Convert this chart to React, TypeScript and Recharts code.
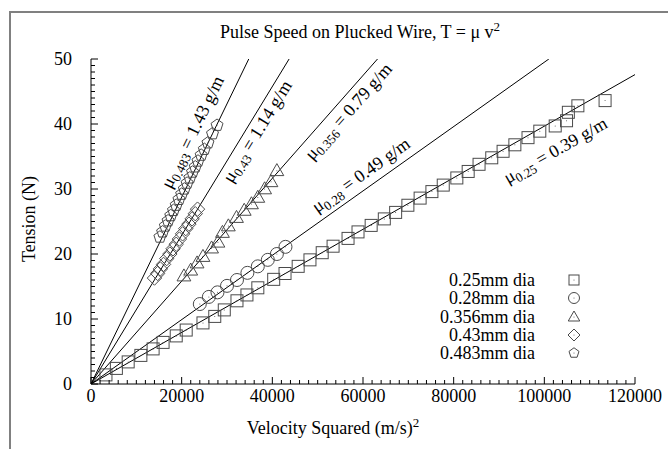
import React from "react";
import { ScatterChart, Scatter, XAxis, YAxis, ReferenceDot, Legend } from "recharts";

// wire diameters and measured points [v^2 (m/s)^2, T (N)]
const wires = ["0.25mm dia", "0.28mm dia", "0.356mm dia", "0.43mm dia", "0.483mm dia"];

const pts025 = [
  [3300, 1.4], [5600, 2.4], [8200, 3.4], [11000, 4.4], [13700, 5.4], [15900, 6.4], [18800, 7.4],
  [21000, 8.3], [24700, 9.4], [27300, 10.4], [29400, 11.4], [32200, 12.8], [34400, 13.7],
  [36800, 14.8], [40300, 16.1], [42800, 17.0], [45700, 18.1], [48300, 19.1], [51000, 20.2],
  [53400, 21.2], [56700, 22.4], [58900, 23.4], [61800, 24.4], [64700, 25.4], [67200, 26.4],
  [69900, 27.5], [72600, 28.6], [75200, 29.6], [77700, 30.6], [80700, 31.7], [83200, 32.7],
  [85600, 33.8], [88400, 34.8], [90900, 35.8], [93500, 36.8], [96400, 37.9], [99000, 38.9],
  [102400, 39.7], [104900, 40.5], [105300, 41.8], [107400, 42.8], [113400, 43.6],
];
const pts028 = [
  [24000, 12.3], [26000, 13.4], [27900, 14.1], [30000, 15.1], [32200, 16.0],
  [34500, 17.1], [36800, 18.1], [39000, 19.1], [41000, 20.0], [42900, 21.1],
];
const pts0356 = [
  [20500, 16.6], [22000, 17.5], [23400, 18.6], [24700, 19.6], [26600, 20.9], [28000, 21.8],
  [29000, 23.3], [30300, 24.3], [32100, 25.6], [33800, 26.7], [35400, 27.7], [36800, 28.7],
  [38300, 30.0], [39700, 31.1], [41000, 32.8],
];
const pts043 = [
  [14000, 16.3], [14700, 17.0], [15300, 17.7], [16000, 18.4], [16700, 19.3], [17400, 20.0],
  [18100, 20.8], [18800, 21.5], [19500, 22.3], [20200, 23.1], [20900, 23.9], [21600, 24.6],
  [22300, 25.4], [23000, 26.2], [23500, 26.9],
];
const pts0483 = [
  [15200, 22.6], [15800, 23.4], [16400, 24.3], [17000, 25.1], [17600, 25.9], [18200, 26.7],
  [18800, 27.5], [19400, 28.4], [20000, 29.2], [20600, 30.0], [21200, 30.9], [21800, 31.7],
  [22400, 32.6], [23000, 33.4], [23600, 34.3], [24300, 35.2], [25000, 36.1], [25800, 37.1],
  [26800, 38.5], [27800, 39.8],
];

// fitted lines through the origin (end points read at the plot edge)
const fit025 = [[0, 0], [120000, 47.6]];
const fit028 = [[0, 0], [101000, 50]];
const fit0356 = [[0, 0], [63200, 50]];
const fit043 = [[0, 0], [43700, 50]];
const fit0483 = [[0, 0], [34800, 50]];

// slope annotations: [x, y, angle, subscript, value]
const notes: [number, number, number, string, string][] = [
  [22300, 38.8, -64, "0.483", "1.43"],
  [36600, 38.9, -58.5, "0.43", "1.14"],
  [56700, 42, -48.6, "0.356", "0.79"],
  [59500, 32.2, -35.4, "0.28", "0.49"],
  [102400, 36, -29.6, "0.25", "0.39"],
];

const xMinor = Array.from({ length: 61 }, (_, i) => i * 2000);
const yMinor = Array.from({ length: 51 }, (_, i) => i);

const toXY = (a: number[][]) => a.map(([x, y]) => ({ x, y }));

const FONT = "'Liberation Serif', 'DejaVu Serif', serif";
const FS = 18;
const MK = "#4a4a4a";

const shapes = [
  (cx: number, cy: number, s: number) => (
    <g>
      <rect x={cx - s} y={cy - s} width={2 * s} height={2 * s} fill="none" stroke={MK} />
      <circle cx={cx} cy={cy} r={0.5} fill={MK} />
    </g>
  ),
  (cx: number, cy: number, s: number) => (
    <g>
      <circle cx={cx} cy={cy} r={s + 0.5} fill="none" stroke={MK} />
      <circle cx={cx} cy={cy} r={0.5} fill={MK} />
    </g>
  ),
  (cx: number, cy: number, s: number) => (
    <g>
      <polygon points={`${cx},${cy - s * 1.2} ${cx - s * 1.15},${cy + s * 0.8} ${cx + s * 1.15},${cy + s * 0.8}`} fill="none" stroke={MK} />
      <circle cx={cx} cy={cy} r={0.5} fill={MK} />
    </g>
  ),
  (cx: number, cy: number, s: number) => (
    <g>
      <polygon points={`${cx},${cy - s * 1.2} ${cx + s * 1.2},${cy} ${cx},${cy + s * 1.2} ${cx - s * 1.2},${cy}`} fill="none" stroke={MK} />
      <circle cx={cx} cy={cy} r={0.5} fill={MK} />
    </g>
  ),
  (cx: number, cy: number, s: number) => {
    const p = [0, 1, 2, 3, 4]
      .map((k) => {
        const a = -Math.PI / 2 + (k * 2 * Math.PI) / 5;
        return `${cx + s * 1.05 * Math.cos(a)},${cy + s * 1.05 * Math.sin(a)}`;
      })
      .join(" ");
    return (
      <g>
        <polygon points={p} fill="none" stroke={MK} />
        <circle cx={cx} cy={cy} r={0.5} fill={MK} />
      </g>
    );
  },
];

const series = [pts025, pts028, pts0356, pts043, pts0483];
const fits = [fit025, fit028, fit0356, fit043, fit0483];

// gnuplot style ticks: inward, long on majors, short on minors
const isMajX = (v: number) => v % 20000 === 0;
const isMajY = (v: number) => v % 10 === 0;

const BottomTick = ({ x, y, payload }: any) => {
  const maj = isMajX(payload.value);
  return (
    <g>
      <line x1={x} x2={x} y1={y} y2={y - (maj ? 7 : 4)} stroke="#000" />
      {maj && (
        <text x={x} y={y + 18} textAnchor="middle" fontFamily={FONT} fontSize={FS} fill="#000">
          {payload.value}
        </text>
      )}
    </g>
  );
};
const TopTick = ({ x, y, payload }: any) => (
  <line x1={x} x2={x} y1={y} y2={y + (isMajX(payload.value) ? 7 : 4)} stroke="#000" />
);
const LeftTick = ({ x, y, payload }: any) => {
  const maj = isMajY(payload.value);
  return (
    <g>
      <line x1={x} x2={x + (maj ? 7 : 4)} y1={y} y2={y} stroke="#000" />
      {maj && (
        <text x={x - 19} y={y} dy="0.35em" textAnchor="end" fontFamily={FONT} fontSize={FS} fill="#000">
          {payload.value}
        </text>
      )}
    </g>
  );
};
const RightTick = ({ x, y, payload }: any) => (
  <line x1={x} x2={x - (isMajY(payload.value) ? 7 : 4)} y1={y} y2={y} stroke="#000" />
);

const LegendBox = () => (
  <div style={{ fontFamily: FONT, fontSize: FS, color: "#000" }}>
    {wires.map((w, i) => (
      <div key={w} style={{ display: "flex", alignItems: "center", height: 18.3 }}>
        <span style={{ display: "inline-block", width: 107, textAlign: "right", lineHeight: "18px" }}>{w}</span>
        <svg width={16} height={16} style={{ marginLeft: 31 }}>
          {shapes[i](8, 8, 5)}
        </svg>
      </div>
    ))}
  </div>
);

const Note = (props: any) => {
  const { cx, cy, angle, sub, val } = props;
  return (
    <text
      x={cx}
      y={cy}
      transform={`rotate(${angle} ${cx} ${cy})`}
      textAnchor="middle"
      fontFamily={FONT}
      fontSize={FS}
      fill="#000"
    >
      <tspan dy="0.35em">μ</tspan>
      <tspan dy={4} fontSize={13}>{sub}</tspan>
      <tspan dy={-4}>{` = ${val} g/m`}</tspan>
    </text>
  );
};

const noShape = () => <g />;

export default function App() {
  return (
    <div style={{ position: "relative", width: 668, height: 449 }}>
      <style>{"html, body { margin: 0; overflow: hidden; }"}</style>
      <svg width={668} height={449} style={{ position: "absolute", left: 0, top: 0, pointerEvents: "none" }}>
        <polyline points="10,449 10,12 668,12" fill="none" stroke="#808080" strokeWidth={2} />
        <text x={360} y={38} textAnchor="middle" fontFamily={FONT} fontSize={FS} fill="#000">
          Pulse Speed on Plucked Wire, T = μ v<tspan dy={-7} fontSize={13}>2</tspan>
        </text>
        <text x={333} y={434} textAnchor="middle" fontFamily={FONT} fontSize={FS} fill="#000">
          Velocity Squared (m/s)<tspan dy={-7} fontSize={13}>2</tspan>
        </text>
        <text
          x={35}
          y={219}
          transform="rotate(-90 35 219)"
          textAnchor="middle"
          fontFamily={FONT}
          fontSize={FS}
          fill="#000"
        >
          Tension (N)
        </text>
      </svg>
      <ScatterChart width={668} height={449} margin={{ top: 59, right: 33, bottom: 25, left: 8 }}>
        <XAxis xAxisId="top" type="number" dataKey="x" domain={[0, 120000]} ticks={xMinor} interval={0} orientation="top" mirror height={0} tickLine={false} tickSize={0} tickMargin={0} tick={(p: any) => <TopTick {...p} />} stroke="#000" allowDataOverflow />
        <YAxis yAxisId="right" type="number" dataKey="y" domain={[0, 50]} ticks={yMinor} interval={0} orientation="right" mirror width={0} tickLine={false} tickSize={0} tickMargin={0} tick={(p: any) => <RightTick {...p} />} stroke="#000" allowDataOverflow />
        <XAxis xAxisId="x" type="number" dataKey="x" domain={[0, 120000]} ticks={xMinor} interval={0} height={40} tickLine={false} tickSize={0} tickMargin={0} tick={(p: any) => <BottomTick {...p} />} stroke="#000" allowDataOverflow />
        <YAxis yAxisId="y" type="number" dataKey="y" domain={[0, 50]} ticks={yMinor} interval={0} width={83} tickLine={false} tickSize={0} tickMargin={0} tick={(p: any) => <LeftTick {...p} />} stroke="#000" allowDataOverflow />

        {/* keeps the mirrored top/right axes registered */}
        <Scatter xAxisId="top" yAxisId="right" data={toXY(fit025)} shape={noShape} legendType="none" isAnimationActive={false} />

        {fits.map((f, i) => (
          <Scatter
            key={"fit" + i}
            xAxisId="x"
            yAxisId="y"
            data={toXY(f)}
            line={{ stroke: "#000", strokeWidth: 1 }}
            shape={noShape}
            legendType="none"
            isAnimationActive={false}
          />
        ))}
        {series.map((s, i) => (
          <Scatter
            key={wires[i]}
            name={wires[i]}
            xAxisId="x"
            yAxisId="y"
            data={toXY(s)}
            shape={(p: any) => shapes[i](p.cx, p.cy, 6)}
            isAnimationActive={false}
          />
        ))}
        {notes.map(([x, y, angle, sub, val]) => (
          <ReferenceDot
            key={sub}
            xAxisId="x"
            yAxisId="y"
            x={x}
            y={y}
            r={0}
            shape={(p: any) => <Note cx={p.cx} cy={p.cy} angle={angle} sub={sub} val={val} />}
          />
        ))}
        <Legend
          layout="horizontal"
          verticalAlign="middle"
          align="center"
          content={() => <LegendBox />}
          wrapperStyle={{ left: 428, top: 271, width: 170, height: 92 }}
        />
      </ScatterChart>
    </div>
  );
}
